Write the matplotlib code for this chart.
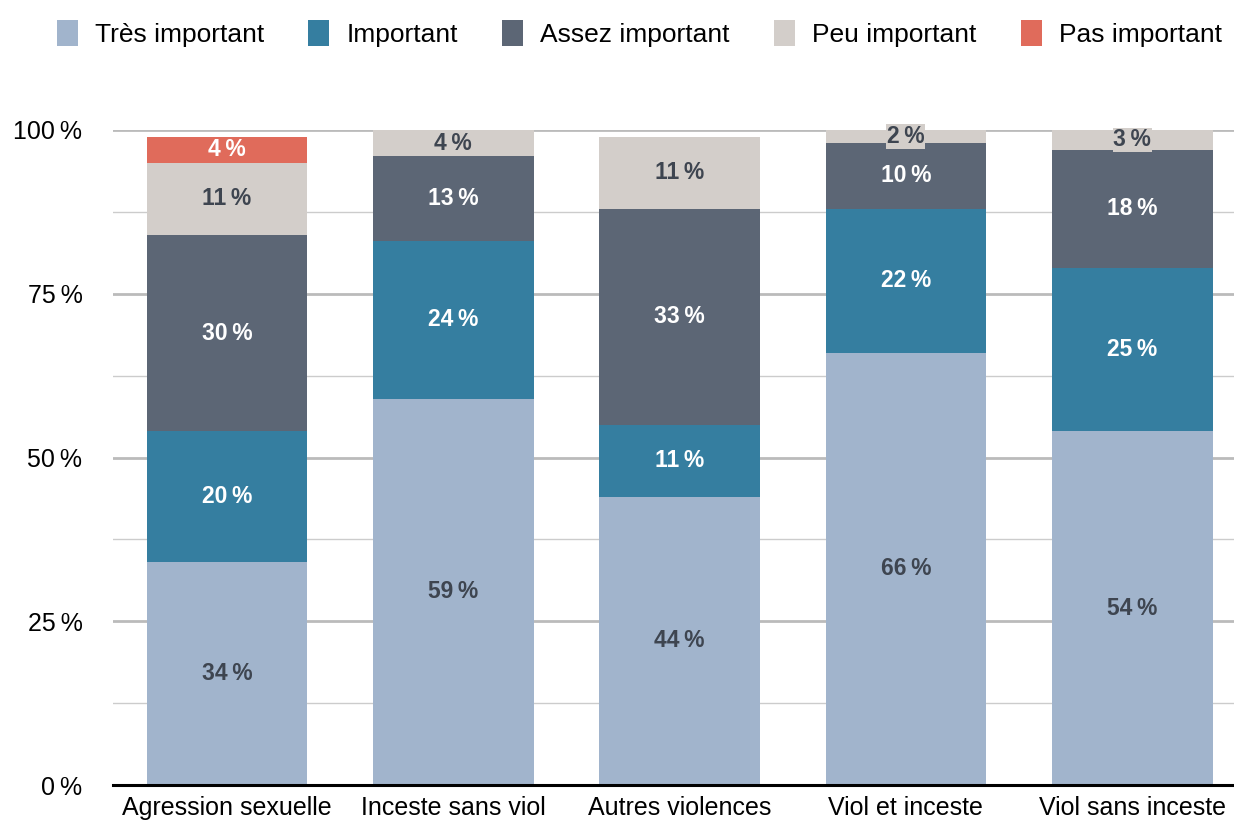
import matplotlib.pyplot as plt
import numpy as np

plt.rcParams['font.family'] = ['Liberation Sans', 'DejaVu Sans']

categories = ['Agression sexuelle', 'Inceste sans viol', 'Autres violences',
              'Viol et inceste', 'Viol sans inceste']
series = ['Très important', 'Important', 'Assez important', 'Peu important', 'Pas important']
tres_important = [34, 59, 44, 66, 54]
important = [20, 24, 11, 22, 25]
assez_important = [30, 13, 33, 10, 18]
peu_important = [11, 4, 11, 2, 3]
pas_important = [4, 0, 0, 0, 0]

colors = ['#a1b4cc', '#357ea0', '#5c6675', '#d3ceca', '#e06b5b']
text_colors = ['#3e4550', 'white', 'white', '#3e4550', 'white']

fig = plt.figure(figsize=(12.34, 8.21), dpi=100)
ax = fig.add_axes([0.0916, 0.0438, 0.9084, 0.7979])

x = np.arange(len(categories))
bottom = np.zeros(len(categories))
handles = []
for name, vals, c, tc in zip(series,
                             [tres_important, important, assez_important,
                              peu_important, pas_important],
                             colors, text_colors):
    vals = np.array(vals, dtype=float)
    bars = ax.bar(x, vals, 0.71, bottom=bottom, color=c, label=name,
                  zorder=3, clip_on=False)
    handles.append(bars)
    for xi, b, v in zip(x, bottom, vals):
        if v > 0:
            ax.text(xi, b + v / 2, f'{v:.0f}\u202f%', ha='center', va='center',
                    fontsize=16.5, fontweight='bold', color=tc, zorder=4,
                    bbox=dict(facecolor=c, edgecolor='none', pad=0.5))
    bottom += vals

ax.set_xlim(-0.504, 4.45)
ax.set_ylim(0, 100)
ax.set_yticks([0, 25, 50, 75, 100])
ax.set_yticklabels(['0\u202f%', '25\u202f%', '50\u202f%', '75\u202f%', '100\u202f%'])
ax.set_yticks([12.5, 37.5, 62.5, 87.5], minor=True)
ax.grid(axis='y', which='major', color='#bbbbbb', linewidth=2, zorder=0)
ax.grid(axis='y', which='minor', color='#cccccc', linewidth=1, zorder=0)
ax.set_xticks(x)
ax.set_xticklabels(categories)
ax.tick_params(axis='both', which='both', length=0)
ax.tick_params(axis='y', pad=22, labelsize=18)
ax.tick_params(axis='x', pad=8, labelsize=18)

for s in ['top', 'right', 'left']:
    ax.spines[s].set_visible(False)
ax.spines['bottom'].set_linewidth(2.2)
ax.spines['bottom'].set_color('black')
ax.spines['bottom'].set_zorder(5)

fig.legend(handles=handles, labels=series, loc='upper center',
           bbox_to_anchor=(0.518, 0.995), ncol=5, frameon=False, fontsize=19,
           handlelength=0.8, handleheight=1.15, handletextpad=0.65,
           columnspacing=1.67, borderaxespad=0.2)

fig.savefig('out.png', dpi=100)
